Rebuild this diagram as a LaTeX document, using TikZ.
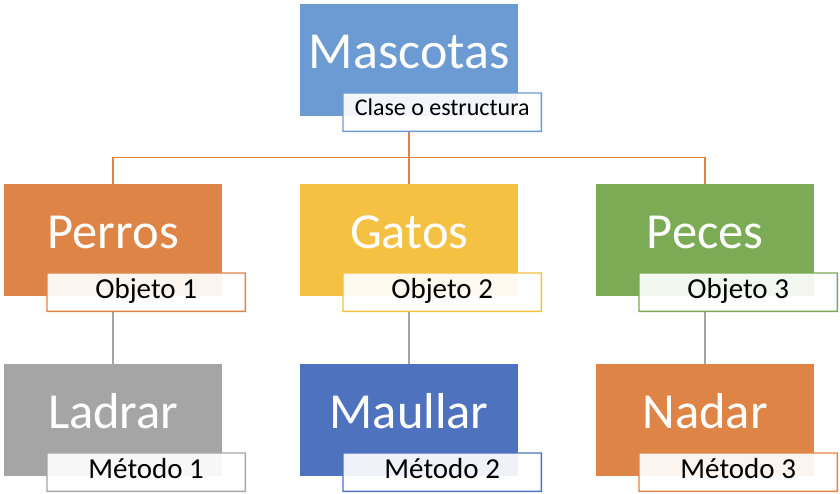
\documentclass[tikz,border=0pt]{standalone}
\usepackage{fontspec}
\setmainfont{Carlito}
\usetikzlibrary{backgrounds,calc}
\definecolor{cMasc}{HTML}{6B9BD2}
\definecolor{cOrange}{HTML}{DF8447}
\definecolor{cYellow}{HTML}{F4C142}
\definecolor{cGreen}{HTML}{7BAB55}
\definecolor{cGray}{HTML}{A5A5A5}
\definecolor{cBlue}{HTML}{4F72BE}
\tikzset{
  bigbox/.style={draw=none, fill=#1, anchor=north west, minimum width=218pt, minimum height=112pt,
    inner sep=0pt, text=white, text height=30pt, text depth=14pt, font=\fontsize{50.5}{60}\selectfont},
  tagbox/.style={draw=none, anchor=north west,
    minimum width=198pt, minimum height=38pt, inner sep=0pt, text=black,
    text height=18pt, text depth=6pt, font=\fontsize{29}{34}\selectfont},
  frame/.style={fill=#1, even odd rule},
  topline/.style={draw=cOrange, line width=1.5pt},
  subline/.style={draw=cGray, line width=1.5pt}
}
% #1 box, #2 tag name, #3 colour, #4 text, #5 extra style
\newcommand\mktag[5]{%
  \fill[white] ($(#1.north west)+(43,89)$) rectangle ++(198,38);
  \fill[#3!9!white] ($(#1.north west)+(43,89)$) rectangle (#1.south east);
  \node[tagbox,#5] (#2) at ($(#1.north west)+(43,89)$) {#4};
  \fill[frame=#3] ($(#2.north west)+(-0.7,-0.7)$) rectangle ($(#2.south east)+(0.7,0.7)$)
                  ($(#2.north west)+(0.7,0.7)$) rectangle ($(#2.south east)+(-0.7,-0.7)$);
}
\begin{document}
\begin{tikzpicture}[x=1pt,y=-1pt]
\useasboundingbox (0,0) rectangle (840,494);
% level 0
\node[bigbox=cMasc, font=\fontsize{52}{62}\selectfont] (m) at (300,4) {Mascotas};
\mktag{m}{mt}{cMasc}{Clase o estructura}{text height=13pt, text depth=6pt, font=\fontsize{24}{29}\selectfont}
% level 1
\node[bigbox=cOrange] (p) at (4,184) {Perros};
\mktag{p}{pt}{cOrange}{Objeto 1}{}
\node[bigbox=cYellow] (g) at (300,184) {Gatos};
\mktag{g}{gt}{cYellow}{Objeto 2}{}
\node[bigbox=cGreen] (c) at (596,184) {Peces};
\mktag{c}{ct}{cGreen}{Objeto 3}{}
% level 2
\node[bigbox=cGray] (l) at (4,364) {Ladrar};
\mktag{l}{lt}{cGray}{Método 1}{}
\node[bigbox=cBlue] (u) at (300,364) {Maullar};
\mktag{u}{ut}{cBlue}{Método 2}{}
\node[bigbox=cOrange] (n) at (596,364) {Nadar};
\mktag{n}{nt}{cOrange}{Método 3}{}
\begin{pgfonlayer}{background}
\coordinate (bar) at ($(m.south)+(0,41)$);
\draw[topline] (m.south) -- (bar);
\draw[topline] (bar) -| (p.north);
\draw[topline] (bar) -- (g.north);
\draw[topline] (bar) -| (c.north);
\draw[subline] (p.south) -- (l.north);
\draw[subline] (g.south) -- (u.north);
\draw[subline] (c.south) -- (n.north);
\end{pgfonlayer}
\end{tikzpicture}
\end{document}
